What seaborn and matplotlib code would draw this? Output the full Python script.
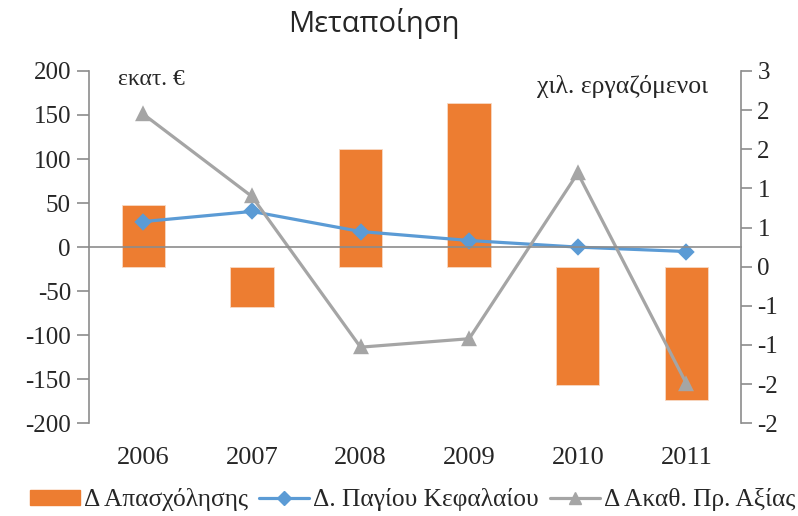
import numpy as np
import pandas as pd
import seaborn as sns
import matplotlib.pyplot as plt
from matplotlib.patches import Patch
from matplotlib.lines import Line2D
from matplotlib.ticker import FuncFormatter

# dati
anni = ["2006", "2007", "2008", "2009", "2010", "2011"]
d_occupazione = [0.79, -0.51, 1.50, 2.09, -1.51, -1.70]      # χιλ. εργαζόμενοι (asse dx)
d_capitale = [29, 40.5, 17.7, 7.5, 0, -5]                   # εκατ. € (asse sx)
d_valore = [151, 57.5, -113.6, -104, 84, -155]              # εκατ. € (asse sx)

etichette = ["Δ Απασχόλησης", "Δ. Παγίου Κεφαλαίου", "Δ Ακαθ. Πρ. Αξίας"]
titolo = "Μεταποίηση"

df = pd.DataFrame({"anno": anni, "occ": d_occupazione,
                   "cap": d_capitale, "val": d_valore})

arancio = "#ED7D31"
blu = "#5B9BD5"
grigio = "#A5A5A5"
grigio_assi = "#8C8C8C"

sns.set_style("white")
plt.rcParams["font.family"] = ["Liberation Serif", "DejaVu Serif"]
plt.rcParams["axes.unicode_minus"] = False

fig = plt.figure(figsize=(7.98, 5.16), dpi=100)
ax = fig.add_axes([0.1115, 0.1797, 0.8167, 0.6828])
ax2 = ax.twinx()

# barre sull'asse secondario
sns.barplot(data=df, x="anno", y="occ", color=arancio, saturation=1,
            width=0.4, edgecolor="#F8D9C4", linewidth=0.6, ax=ax2)

# linee sull'asse principale
sns.pointplot(data=df, x="anno", y="cap", color=blu, markers="D",
              errorbar=None, linewidth=2.3, markersize=7, ax=ax)
sns.pointplot(data=df, x="anno", y="val", color=grigio, markers="^",
              errorbar=None, linewidth=2.3, markersize=9, ax=ax)

ax.set_zorder(ax2.get_zorder() + 1)
ax.patch.set_visible(False)

ax.set_ylim(-200, 200)
ax.set_yticks(np.arange(-200, 201, 50))
ax2.set_ylim(-2, 2.5)
ax2.set_yticks(np.arange(-2, 2.51, 0.5))


def arrotonda(v, pos):
    return "%d" % int(np.sign(v) * np.floor(abs(v) + 0.5))


ax2.yaxis.set_major_formatter(FuncFormatter(arrotonda))

ax.set_xlim(-0.5, len(anni) - 0.5)
ax.set_xlabel("")
ax.set_ylabel("")
ax2.set_ylabel("")

# asse x sullo zero di sinistra, tacche ai confini delle categorie
ax.spines["bottom"].set_position(("data", 0))
ax.set_xticks(np.arange(0.5, len(anni) - 1, 1.0))
ax.set_xticklabels([])
ax.tick_params(axis="x", direction="out", length=9, width=1.2,
               color=grigio_assi)

sec = ax.secondary_xaxis(0)
sec.set_xticks(range(len(anni)))
sec.set_xticklabels(anni)
sec.tick_params(length=0, pad=17, labelsize=19)
sec.spines["bottom"].set_visible(False)

for a in (ax, ax2):
    a.spines["top"].set_visible(False)
    for s in ("left", "right", "bottom"):
        a.spines[s].set_color(grigio_assi)
        a.spines[s].set_linewidth(1.2)
ax2.spines["bottom"].set_visible(False)
ax.spines["right"].set_visible(False)
ax2.spines["left"].set_visible(False)

ax.tick_params(axis="y", direction="out", length=9, width=1.2,
               color=grigio_assi, labelsize=18, pad=4)
ax2.tick_params(axis="y", direction="out", length=8, width=1.2,
                color=grigio_assi, labelsize=18, pad=4)

ax.text(0.044, 0.977, "εκατ. €", transform=ax.transAxes,
        fontsize=17, ha="left", va="center")
ax.text(0.95, 0.956, "χιλ. εργαζόμενοι", transform=ax.transAxes,
        fontsize=18.5, ha="right", va="center")

fig.text(0.468, 0.955, titolo, ha="center", va="center", fontsize=21,
         family=["Open Sans", "DejaVu Sans"])

maniglie = [Patch(facecolor=arancio, edgecolor=arancio),
            Line2D([], [], color=blu, lw=2.3, marker="D", markersize=7),
            Line2D([], [], color=grigio, lw=2.3, marker="^", markersize=9)]
fig.legend(maniglie, etichette, loc="center", bbox_to_anchor=(0.517, 1 - 500 / 516),
           ncol=3, frameon=False, fontsize=18.3, handlelength=1.95,
           handletextpad=0.16, columnspacing=0.45, handleheight=0.56)

fig.savefig("out.png", dpi=100)
